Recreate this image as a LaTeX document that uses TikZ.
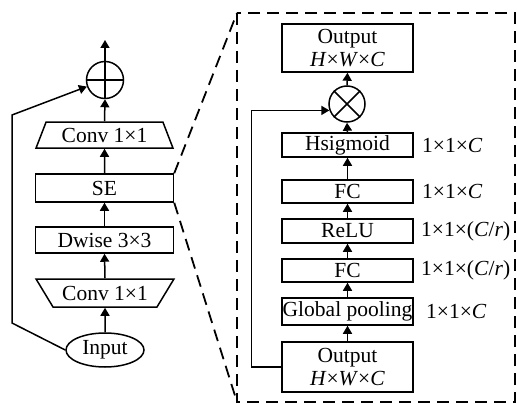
\documentclass[tikz,border=0pt]{standalone}
\usepackage{fontspec}
\setmainfont{Liberation Serif}
\usetikzlibrary{shapes.geometric,arrows.meta}
\begin{document}
\begin{tikzpicture}[x=1pt,y=-1pt,
  every node/.style={font=\fontsize{21.5}{23}\selectfont, inner sep=0pt},
  lbox/.style={draw, line width=1.5pt, rectangle, minimum width=138pt},
  rbox/.style={draw, line width=1.5pt, rectangle, minimum width=131pt, align=center},
  trapbox/.style={draw, line width=1.5pt, trapezium, trapezium stretches=true, minimum width=138pt},
  arr/.style={-{Triangle[width=9pt,length=8pt]}, line width=1.5pt},
  ln/.style={line width=1.5pt},
  dsh/.style={line width=1.8pt, dash pattern=on 12pt off 7pt},
  lab/.style={anchor=west}]
\useasboundingbox (0,0) rectangle (517,404);

% left column
\node[draw, ellipse, line width=1.5pt, minimum width=78pt, minimum height=34pt] (in) at (105,350) {Input};
\node[trapbox, trapezium left angle=134, trapezium right angle=134, minimum height=28pt] (c1) at (105,293) {Conv 1×1};
\node[lbox, minimum height=26pt] (dw) at (104.5,240) {Dwise 3×3};
\node[lbox, minimum height=28pt] (se) at (104.5,188) {SE};
\node[trapbox, trapezium left angle=63, trapezium right angle=63, minimum height=26pt] (c2) at (104.5,135) {Conv 1×1};
\node[draw, circle, line width=1.5pt, minimum size=37pt] (pl) at (105,80) {};
\draw[ln] (pl.north) -- (pl.south) (pl.west) -- (pl.east);
\coordinate (top) at (105,40);
\coordinate (s1) at (12,323);
\coordinate (s2) at (12,115);

\draw[arr] (in.north) -- (c1.south);
\draw[arr] (c1.north) -- (dw.south);
\draw[arr] (dw.north) -- (se.south);
\draw[arr] (se.north) -- (c2.south);
\draw[arr] (c2.north) -- (pl.south);
\draw[arr] (pl.north) -- (top);
\draw[arr] (in.west) -- (s1) -- (s2) -- (pl.200);

% dashed zoom
\coordinate (dtl) at (237,13);
\coordinate (dbl) at (237,402);
\coordinate (dbr) at (515,402);
\draw[dsh] (dtl) rectangle (dbr);
\draw[dsh] (se.north east) -- (dtl);
\draw[dsh] (se.south east) -- (dbl);

% right column
\node[rbox, minimum height=48pt] (ot) at (347.5,48) {Output\\\textit{H}×\textit{W}×\textit{C}};
\node[draw, circle, line width=1.5pt, minimum size=36pt] (mu) at (347,104) {};
\draw[ln] (mu.45) -- (mu.225) (mu.135) -- (mu.315);
\node[rbox, minimum height=24pt] (hs) at (347.5,145) {Hsigmoid};
\node[rbox, minimum height=23pt] (fc2) at (347.5,191.5) {FC};
\node[rbox, minimum height=24pt] (re) at (347.5,231) {ReLU};
\node[rbox, minimum height=23pt] (fc1) at (347.5,270.5) {FC};
\node[rbox, minimum height=27pt] (gp) at (347.5,311.5) {Global pooling};
\node[rbox, minimum height=50pt] (ob) at (347.5,367) {Output\\\textit{H}×\textit{W}×\textit{C}};

\draw[arr] (ob.north) -- (gp.south);
\draw[arr] (gp.north) -- (fc1.south);
\draw[arr] (fc1.north) -- (re.south);
\draw[arr] (re.north) -- (fc2.south);
\draw[arr] (fc2.north) -- (hs.south);
\draw[arr] (hs.north) -- (mu.south);
\draw[arr] (mu.north) -- (ot.south);
\draw[arr] (ob.west) -- ++(-30,0) |- (mu.200);

% labels
\node[lab] (l1) at (422,145) {1×1×\textit{C}};
\node[lab] (l2) at (422,191.5) {1×1×\textit{C}};
\node[lab] (l3) at (421,231) {1×1×(\textit{C}/\textit{r})};
\node[lab] (l4) at (421,270.5) {1×1×(\textit{C}/\textit{r})};
\node[lab] (l5) at (426,311.5) {1×1×\textit{C}};
\end{tikzpicture}
\end{document}
